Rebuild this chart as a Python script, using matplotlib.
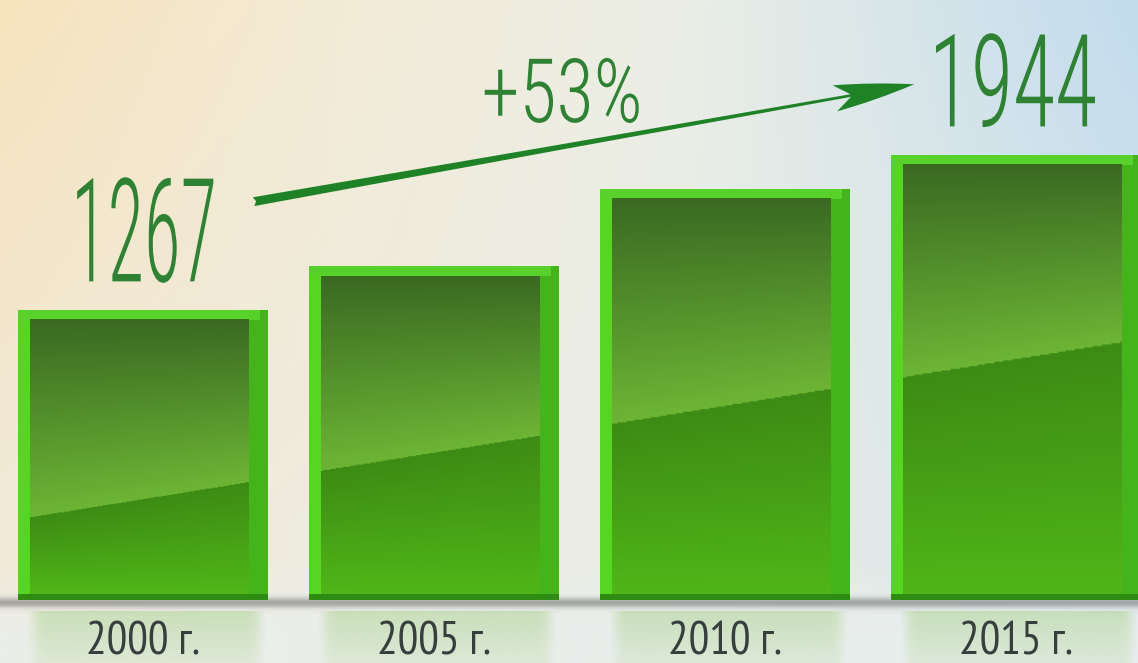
import numpy as np
import matplotlib
matplotlib.use("Agg")
import matplotlib.pyplot as plt
from matplotlib.patheffects import AbstractPathEffect
from matplotlib.transforms import Affine2D
from matplotlib.patches import Rectangle

# ---------------- data ----------------
years = ["2000 г.", "2005 г.", "2010 г.", "2015 г."]
values = [1267, 1457, 1796, 1944]
labelled = [0, 3]          # bars whose value is written above

# ---------------- helpers ----------------
class Squeeze(AbstractPathEffect):
    """Draw text horizontally condensed about its own centre."""
    def __init__(self, sx=0.5):
        super().__init__()
        self.sx = sx

    def draw_path(self, renderer, gc, tpath, affine, rgbFace=None):
        ext = tpath.get_extents()
        cx = (ext.x0 + ext.x1) / 2
        tr = Affine2D().translate(-cx, 0).scale(self.sx, 1.0).translate(cx, 0) + affine
        renderer.draw_path(gc, tpath, tr, rgbFace)


def hex2rgb(h):
    h = h.lstrip("#")
    return np.array([int(h[i:i + 2], 16) for i in (0, 2, 4)]) / 255.0


def lerp(c1, c2, t):
    t = np.clip(t, 0, 1)[..., None]
    return c1 * (1 - t) + c2 * t


NUM_FAM = ["Roboto Condensed", "Roboto", "DejaVu Sans"]
LAB_FAM = ["PT Sans Narrow", "Roboto Condensed", "DejaVu Sans"]

fig = plt.figure(figsize=(11.38, 6.63), dpi=100)
ax = fig.add_axes([0, 0, 1, 1])
XL = (-0.491, 3.419)
YL = (-275, 2621)
ax.set_xlim(*XL)
ax.set_ylim(*YL)
ax.axis("off")

# ---------------- background ----------------
W, H = 400, 240
xs = np.linspace(0, 1, W)
ys = np.linspace(0, 1, H)[:, None]          # 0 = top
def hgrad(stops):
    pos = [p for p, _ in stops]
    cols = np.array([hex2rgb(c) for _, c in stops])
    return np.stack([np.interp(xs, pos, cols[:, k]) for k in range(3)], axis=-1)
top = hgrad([(0, "#f7e3bd"), (0.3, "#f3ebd6"), (0.6, "#ebeee6"), (1, "#c2dcee")])
mid = hgrad([(0, "#f1e9d8"), (0.5, "#eceee6"), (1, "#d8e6ea")])
bot = hgrad([(0, "#eceee8"), (1, "#e8eeee")])
t1 = np.clip(ys / 0.8, 0, 1)[..., None]
bg = top[None] * (1 - t1) + mid[None] * t1
t2 = np.clip((ys - 0.85) / 0.1, 0, 1)[..., None]
bg = bg * (1 - t2) + bot[None] * t2
ax.imshow(bg, extent=[XL[0], XL[1], YL[0], YL[1]], aspect="auto", zorder=0,
          interpolation="bilinear")

# ---------------- floor shadow ----------------
sh_y = np.linspace(30, -70, 60)
prof = np.exp(-((sh_y + 12) / 22.0) ** 2) * 0.55
shadow = np.zeros((60, 2, 4))
shadow[..., :3] = 0.42
shadow[..., 3] = prof[:, None]
ax.imshow(shadow, extent=[XL[0], XL[1], -70, 30], aspect="auto", zorder=1,
          interpolation="bilinear")

# ---------------- bars ----------------
px_x = 1 / 291.0
px_y = 4.349
bar_w = 250 * px_x
left_w = 12 * px_x
right_w = 20 * px_x
top_h = 10 * px_y
bot_h = 6 * px_y

def diag(x):
    # glossy highlight boundary, one straight line across all bars
    return 357 + 204 * (x + 0.40)

c_top = hex2rgb("#3a6a22")
c_light = hex2rgb("#6db535")
c_below = hex2rgb("#3d8b14")
c_bottom = hex2rgb("#50b618")

xpos = np.arange(len(values))
bars = ax.bar(xpos, values, width=bar_w, color="#45b41c", zorder=3, linewidth=0)

for x, v in zip(xpos, values):
    x0 = x - bar_w / 2
    x1 = x + bar_w / 2
    # soft reflection under the bar
    ry = np.linspace(0, 1, 50)[:, None]
    rx = np.linspace(0, 1, 40)[None, :]
    refl = np.zeros((50, 40, 4))
    refl[..., :3] = hex2rgb("#b4d69c")
    edge = np.clip(np.minimum(rx, 1 - rx) / 0.06, 0, 1)
    refl[..., 3] = (0.6 - 0.35 * ry) * edge
    ax.imshow(refl, extent=[x0 + left_w * 0.5, x1, YL[0], -50], aspect="auto",
              zorder=2, interpolation="bilinear")
    # left bright strip and top strip
    ax.add_patch(Rectangle((x0, 0), left_w, v, color="#56d620", lw=0, zorder=4))
    ax.add_patch(Rectangle((x0, v - top_h), bar_w - right_w * 0.4, top_h,
                           color="#58d22a", lw=0, zorder=4))
    # bottom darker edge
    ax.add_patch(Rectangle((x0, 0), bar_w, bot_h, color="#2f8c12", lw=0, zorder=4))
    # front face with gradient
    fx0, fx1 = x0 + left_w, x1 - right_w
    fy0, fy1 = bot_h, v - top_h
    gx = np.linspace(fx0, fx1, 120)[None, :]
    gy = np.linspace(fy1, fy0, 300)[:, None]
    d = diag(gx)
    up = lerp(c_top, c_light, (fy1 - gy) / (fy1 - d))
    lo = lerp(c_below, c_bottom, (d - gy) / (d - fy0))
    face = np.where((gy > d)[..., None], up, lo)
    ax.imshow(face, extent=[fx0, fx1, fy0, fy1], aspect="auto", zorder=5,
              interpolation="bilinear")

# ---------------- category labels ----------------
for x, lab in zip(xpos, years):
    ax.text(x, -239, lab, ha="center", va="baseline", fontsize=33, family=LAB_FAM,
            color="#363e3e", zorder=6)

# ---------------- value labels ----------------
num_color = "#2f8234"
num_size = {0: 104, 3: 93}
num_sq = {0: 0.52, 3: 0.67}
num_dx = {0: 0.0, 3: -0.015}
for i in labelled:
    ax.text(xpos[i] + num_dx[i], values[i] + 125, f"{values[i]}", ha="center",
            va="baseline", fontsize=num_size[i], family=NUM_FAM, weight=300,
            color=num_color, zorder=6, path_effects=[Squeeze(num_sq[i])])

# ---------------- growth arrow ----------------
growth = round((values[-1] / values[0] - 1) * 100)
start = (xpos[0] + 0.38, values[0] + 473)
end = (xpos[-1] - 0.35, values[-1] + 309)
ax.annotate("", xy=end, xytext=start, zorder=6,
            arrowprops=dict(arrowstyle="fancy,head_length=2.9,head_width=0.95,tail_width=0.32",
                            mutation_scale=20, color="#1f8226", lw=0,
                            shrinkA=0, shrinkB=0))
ax.text(1.44, values[-1] + 144, f"+{growth}%", ha="center", va="baseline", fontsize=64,
        family=NUM_FAM, weight=300, color=num_color, zorder=6,
        path_effects=[Squeeze(0.86)])

fig.savefig("out.png", dpi=100)
